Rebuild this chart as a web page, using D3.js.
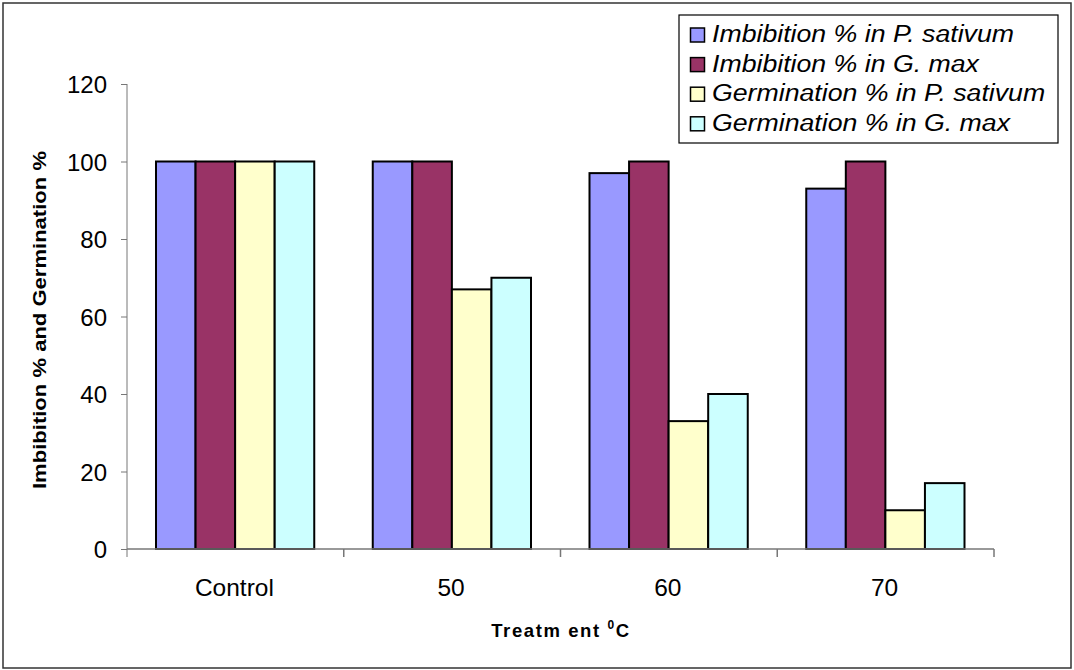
<!DOCTYPE html>
<html><head><meta charset="utf-8">
<script src="https://cdn.jsdelivr.net/npm/d3@7"></script>
<style>body{margin:0;background:#fff}svg text{font-family:"Liberation Sans",Arial,sans-serif}</style>
</head><body><svg id="c" width="1074" height="670"></svg>
<script>
const categories = ["Control","50","60","70"];
const seriesNames = ["Imbibition % in P. sativum","Imbibition % in G. max","Germination % in P. sativum","Germination % in G. max"];
const imbPS = [100,100,97,93];
const imbGM = [100,100,100,100];
const gerPS = [100,67,33,10];
const gerGM = [100,70,40,17];
const yTicks = [0,20,40,60,80,100,120];
const colors = ["#9999FF","#993366","#FFFFCC","#CCFFFF"];
const series = [imbPS, imbGM, gerPS, gerGM];

const svg = d3.select("#c");
svg.append("rect").attr("x",3).attr("y",3).attr("width",1068).attr("height",665)
  .attr("fill","#fff").attr("stroke","#333").attr("stroke-width",1.5);

const L=127, R=994, T=84, B=549;
const x = d3.scaleBand().domain(categories).range([L,R]).paddingInner(0).paddingOuter(0);
const y = d3.scaleLinear().domain([0,120]).range([B,T]);
const groupW = x.bandwidth();
const inner = d3.scaleBand().domain(d3.range(4)).range([29, groupW-29.5]);

// bars
categories.forEach((c,i)=>{
  series.forEach((s,j)=>{
    svg.append("rect")
      .attr("x", x(c)+inner(j)).attr("y", y(s[i]))
      .attr("width", inner.bandwidth()).attr("height", y(0)-y(s[i]))
      .attr("fill", colors[j]).attr("stroke","#000").attr("stroke-width",2);
  });
});

// y axis
const ya = svg.append("g").attr("transform",`translate(${L},0)`)
  .call(d3.axisLeft(y).tickValues(yTicks).tickSize(6).tickPadding(14));
ya.select(".domain").attr("stroke","#777").attr("d",`M0,${T}V${B+8}`);
ya.selectAll(".tick line").attr("stroke","#777");
ya.selectAll("text").attr("font-size",24).attr("fill","#000").attr("dy","0.36em");

// x axis
const xa = svg.append("g").attr("transform",`translate(0,${B})`);
xa.append("path").attr("d",`M${L},0H${R}`).attr("stroke","#777").attr("stroke-width",1.5);
categories.forEach((c,i)=>{
  if(i>0) xa.append("line").attr("x1",x(c)).attr("x2",x(c)).attr("y1",0).attr("y2",8).attr("stroke","#777").attr("stroke-width",1.5);
  xa.append("text").attr("x",x(c)+groupW/2-1).attr("y",47).attr("text-anchor","middle")
    .attr("font-size",24.5).attr("fill","#000").text(c);
});
xa.append("line").attr("x1",R).attr("x2",R).attr("y1",0).attr("y2",8).attr("stroke","#777").attr("stroke-width",1.5);

// axis titles
svg.append("text").attr("transform","translate(46,320) rotate(-90)").attr("text-anchor","middle")
  .attr("font-size",19).attr("font-weight","bold")
  .attr("textLength",338).attr("lengthAdjust","spacingAndGlyphs")
  .text("Imbibition % and Germination %");
const xt = svg.append("text").attr("x",561).attr("y",637).attr("text-anchor","middle")
  .attr("font-size",18.5).attr("font-weight","bold").attr("letter-spacing","1.6px");
xt.append("tspan").text("Treatm ent ");
xt.append("tspan").attr("font-size",12).attr("dy",-8).text("0");
xt.append("tspan").attr("dy",8).text("C");

// legend
const lg = svg.append("g");
lg.append("rect").attr("x",679).attr("y",15).attr("width",379).attr("height",128)
  .attr("fill","#fff").attr("stroke","#000").attr("stroke-width",1.2);
seriesNames.forEach((n,j)=>{
  const base = 42 + j*29.6;
  lg.append("rect").attr("x",690.5).attr("y",base-14).attr("width",14).attr("height",14)
    .attr("fill",colors[j]).attr("stroke","#000").attr("stroke-width",1.5);
  const t = lg.append("text").attr("x",712).attr("y",base).attr("font-size",23)
    .attr("font-style","italic").text(n);
  const w = t.node().getComputedTextLength();
  t.attr("textLength", w*1.16).attr("lengthAdjust","spacingAndGlyphs");
});
</script></body></html>
